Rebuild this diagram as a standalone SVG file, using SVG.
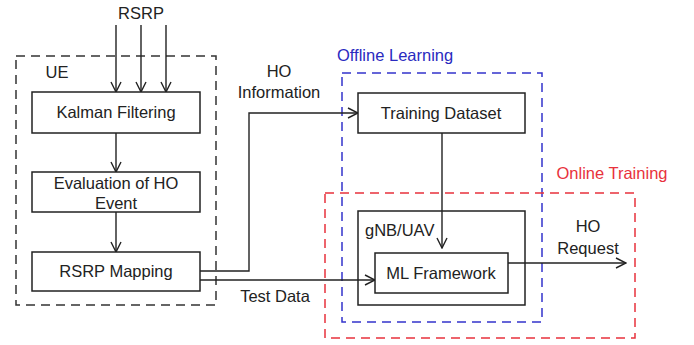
<svg xmlns="http://www.w3.org/2000/svg" width="694" height="345" viewBox="0 0 694 345">
<style>
text{font-family:"Liberation Sans","Noto Sans",Arial,sans-serif;font-size:16.5px;fill:#222}
.box{fill:#fff;stroke:#222;stroke-width:1.5}
.dash{fill:none;stroke-width:1.5;stroke-dasharray:9,6}
.ln{fill:none;stroke:#222;stroke-width:1.4}
</style>
<defs>
<marker id="ah" viewBox="0 0 12 12" refX="11" refY="6" markerWidth="12" markerHeight="12" markerUnits="userSpaceOnUse" orient="auto">
<polyline points="1,1 11,6 1,11" fill="none" stroke="#222" stroke-width="1.4"/>
</marker>
</defs>
<rect width="694" height="345" fill="#fff"/>
<g id="ue-group">
<rect class="dash" x="16" y="56" width="200" height="249" stroke="#333"/>
<text x="57" y="78" text-anchor="middle">UE</text>
</g>
<g id="offline-group">
<rect class="dash" x="342" y="73" width="200" height="249" stroke="#3333cc"/>
<text x="337" y="61" style="fill:#2a2ac0">Offline Learning</text>
</g>
<g id="online-group">
<rect class="dash" x="325" y="193" width="310" height="145" stroke="#e8323c"/>
<text x="612" y="179" text-anchor="middle" style="fill:#e8323c">Online Training</text>
</g>
<g id="connectors">
<line class="ln" x1="116" y1="25" x2="116" y2="92" marker-end="url(#ah)"/>
<line class="ln" x1="141" y1="25" x2="141" y2="92" marker-end="url(#ah)"/>
<line class="ln" x1="166" y1="25" x2="166" y2="92" marker-end="url(#ah)"/>
<line class="ln" x1="116" y1="133" x2="116" y2="172" marker-end="url(#ah)"/>
<line class="ln" x1="116" y1="212" x2="116" y2="252" marker-end="url(#ah)"/>
<polyline class="ln" points="200,271 249,271 249,113 358,113" marker-end="url(#ah)"/>
<line class="ln" x1="200" y1="280" x2="375" y2="280" marker-end="url(#ah)"/>
<line class="ln" x1="442" y1="133" x2="442" y2="248" marker-end="url(#ah)"/>
<line class="ln" x1="508" y1="263" x2="626" y2="263" marker-end="url(#ah)"/>
<text x="141" y="19" text-anchor="middle">RSRP</text>
<text x="279" y="77" text-anchor="middle">HO</text>
<text x="279" y="98" text-anchor="middle">Information</text>
<text x="275" y="302" text-anchor="middle">Test Data</text>
<text x="588" y="232" text-anchor="middle">HO</text>
<text x="588" y="254" text-anchor="middle">Request</text>
</g>
<g id="kalman">
<rect class="box" x="32" y="92" width="168" height="41"/>
<text x="116" y="118" text-anchor="middle">Kalman Filtering</text>
</g>
<g id="evaluation">
<rect class="box" x="32" y="172" width="168" height="40"/>
<text x="116" y="189" text-anchor="middle">Evaluation of HO</text>
<text x="116" y="209" text-anchor="middle">Event</text>
</g>
<g id="rsrp-mapping">
<rect class="box" x="32" y="252" width="168" height="39"/>
<text x="116" y="277" text-anchor="middle">RSRP Mapping</text>
</g>
<g id="training-dataset">
<rect class="box" x="358" y="93" width="167" height="40"/>
<text x="441" y="119" text-anchor="middle">Training Dataset</text>
</g>
<g id="gnb-uav">
<rect class="box" x="358" y="211" width="167" height="94" style="fill:none"/>
<text x="365" y="236">gNB/UAV</text>
</g>
<g id="ml-framework">
<rect class="box" x="375" y="253" width="133" height="40"/>
<text x="441" y="279" text-anchor="middle">ML Framework</text>
</g>
</svg>
